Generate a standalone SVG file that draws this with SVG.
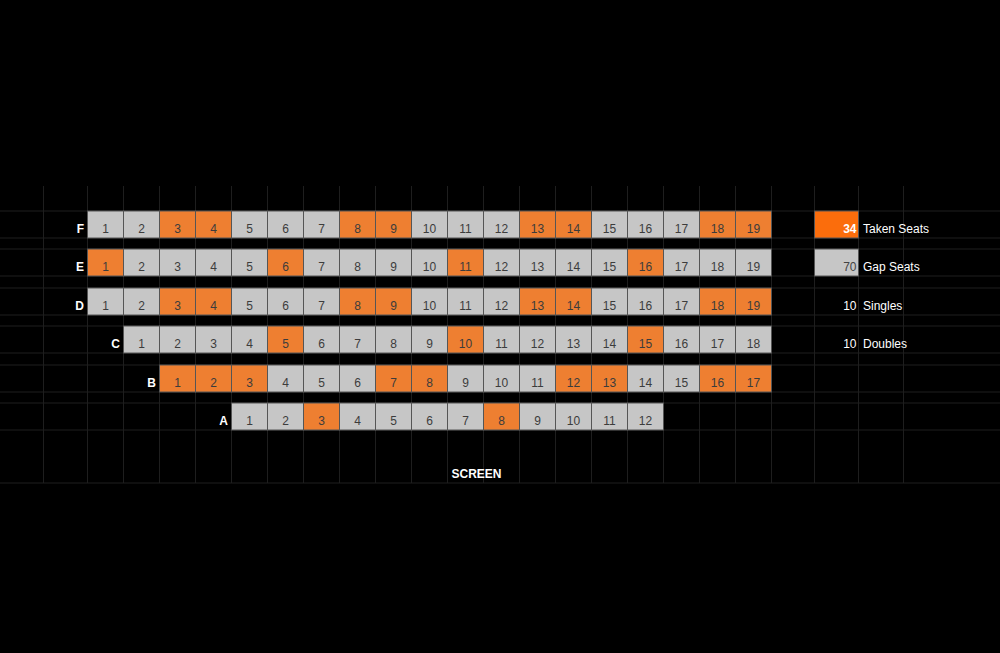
<svg xmlns="http://www.w3.org/2000/svg" width="1000" height="653" viewBox="0 0 1000 653">
<style>
.bg{fill:#000}
.grid line{stroke:#1e1e1e;stroke-width:1}
.s rect{fill:#c6c6c6;stroke:#555;stroke-width:1}
.s.t rect{fill:#ee7f31}
.s text{font-family:"Liberation Sans",Arial,sans-serif;font-size:12px;fill:#3c3c3c;text-anchor:middle}
.lbl{font-family:"Liberation Sans",Arial,sans-serif;font-size:12px;font-weight:bold;fill:#fff;text-anchor:end}
.lg{font-family:"Liberation Sans",Arial,sans-serif;font-size:12px;fill:#fff}
</style>
<rect class="bg" x="0" y="0" width="1000" height="653"/>
<g id="grid" class="grid">
<line x1="0" y1="211" x2="1000" y2="211"/><line x1="0" y1="238" x2="1000" y2="238"/>
<line x1="0" y1="249" x2="1000" y2="249"/><line x1="0" y1="276" x2="1000" y2="276"/>
<line x1="0" y1="288" x2="1000" y2="288"/><line x1="0" y1="315" x2="1000" y2="315"/>
<line x1="0" y1="326" x2="1000" y2="326"/><line x1="0" y1="353" x2="1000" y2="353"/>
<line x1="0" y1="365" x2="1000" y2="365"/><line x1="0" y1="392" x2="1000" y2="392"/>
<line x1="0" y1="403" x2="1000" y2="403"/><line x1="0" y1="430" x2="1000" y2="430"/>
<line x1="0" y1="483" x2="1000" y2="483"/>
<line x1="43.5" y1="186" x2="43.5" y2="483"/>
<line x1="87.5" y1="186" x2="87.5" y2="483"/><line x1="123.5" y1="186" x2="123.5" y2="483"/>
<line x1="159.5" y1="186" x2="159.5" y2="483"/><line x1="195.5" y1="186" x2="195.5" y2="483"/>
<line x1="231.5" y1="186" x2="231.5" y2="483"/><line x1="267.5" y1="186" x2="267.5" y2="483"/>
<line x1="303.5" y1="186" x2="303.5" y2="483"/><line x1="339.5" y1="186" x2="339.5" y2="483"/>
<line x1="375.5" y1="186" x2="375.5" y2="483"/><line x1="411.5" y1="186" x2="411.5" y2="483"/>
<line x1="447.5" y1="186" x2="447.5" y2="483"/><line x1="483.5" y1="186" x2="483.5" y2="483"/>
<line x1="519.5" y1="186" x2="519.5" y2="483"/><line x1="555.5" y1="186" x2="555.5" y2="483"/>
<line x1="591.5" y1="186" x2="591.5" y2="483"/><line x1="627.5" y1="186" x2="627.5" y2="483"/>
<line x1="663.5" y1="186" x2="663.5" y2="483"/><line x1="699.5" y1="186" x2="699.5" y2="483"/>
<line x1="735.5" y1="186" x2="735.5" y2="483"/><line x1="771.5" y1="186" x2="771.5" y2="483"/>
<line x1="814.5" y1="186" x2="814.5" y2="483"/><line x1="858.5" y1="186" x2="858.5" y2="483"/>
<line x1="903.5" y1="186" x2="903.5" y2="483"/>
</g>

<g id="rowF">
<text class="lbl" x="84" y="233">F</text>
<g id="F1" class="s"><rect x="87.5" y="211" width="36" height="27"/><text x="105.5" y="233">1</text></g>
<g id="F2" class="s"><rect x="123.5" y="211" width="36" height="27"/><text x="141.5" y="233">2</text></g>
<g id="F3" class="s t"><rect x="159.5" y="211" width="36" height="27"/><text x="177.5" y="233">3</text></g>
<g id="F4" class="s t"><rect x="195.5" y="211" width="36" height="27"/><text x="213.5" y="233">4</text></g>
<g id="F5" class="s"><rect x="231.5" y="211" width="36" height="27"/><text x="249.5" y="233">5</text></g>
<g id="F6" class="s"><rect x="267.5" y="211" width="36" height="27"/><text x="285.5" y="233">6</text></g>
<g id="F7" class="s"><rect x="303.5" y="211" width="36" height="27"/><text x="321.5" y="233">7</text></g>
<g id="F8" class="s t"><rect x="339.5" y="211" width="36" height="27"/><text x="357.5" y="233">8</text></g>
<g id="F9" class="s t"><rect x="375.5" y="211" width="36" height="27"/><text x="393.5" y="233">9</text></g>
<g id="F10" class="s"><rect x="411.5" y="211" width="36" height="27"/><text x="429.5" y="233">10</text></g>
<g id="F11" class="s"><rect x="447.5" y="211" width="36" height="27"/><text x="465.5" y="233">11</text></g>
<g id="F12" class="s"><rect x="483.5" y="211" width="36" height="27"/><text x="501.5" y="233">12</text></g>
<g id="F13" class="s t"><rect x="519.5" y="211" width="36" height="27"/><text x="537.5" y="233">13</text></g>
<g id="F14" class="s t"><rect x="555.5" y="211" width="36" height="27"/><text x="573.5" y="233">14</text></g>
<g id="F15" class="s"><rect x="591.5" y="211" width="36" height="27"/><text x="609.5" y="233">15</text></g>
<g id="F16" class="s"><rect x="627.5" y="211" width="36" height="27"/><text x="645.5" y="233">16</text></g>
<g id="F17" class="s"><rect x="663.5" y="211" width="36" height="27"/><text x="681.5" y="233">17</text></g>
<g id="F18" class="s t"><rect x="699.5" y="211" width="36" height="27"/><text x="717.5" y="233">18</text></g>
<g id="F19" class="s t"><rect x="735.5" y="211" width="36" height="27"/><text x="753.5" y="233">19</text></g>
</g>

<g id="rowE">
<text class="lbl" x="84" y="271">E</text>
<g id="E1" class="s t"><rect x="87.5" y="249" width="36" height="27"/><text x="105.5" y="271">1</text></g>
<g id="E2" class="s"><rect x="123.5" y="249" width="36" height="27"/><text x="141.5" y="271">2</text></g>
<g id="E3" class="s"><rect x="159.5" y="249" width="36" height="27"/><text x="177.5" y="271">3</text></g>
<g id="E4" class="s"><rect x="195.5" y="249" width="36" height="27"/><text x="213.5" y="271">4</text></g>
<g id="E5" class="s"><rect x="231.5" y="249" width="36" height="27"/><text x="249.5" y="271">5</text></g>
<g id="E6" class="s t"><rect x="267.5" y="249" width="36" height="27"/><text x="285.5" y="271">6</text></g>
<g id="E7" class="s"><rect x="303.5" y="249" width="36" height="27"/><text x="321.5" y="271">7</text></g>
<g id="E8" class="s"><rect x="339.5" y="249" width="36" height="27"/><text x="357.5" y="271">8</text></g>
<g id="E9" class="s"><rect x="375.5" y="249" width="36" height="27"/><text x="393.5" y="271">9</text></g>
<g id="E10" class="s"><rect x="411.5" y="249" width="36" height="27"/><text x="429.5" y="271">10</text></g>
<g id="E11" class="s t"><rect x="447.5" y="249" width="36" height="27"/><text x="465.5" y="271">11</text></g>
<g id="E12" class="s"><rect x="483.5" y="249" width="36" height="27"/><text x="501.5" y="271">12</text></g>
<g id="E13" class="s"><rect x="519.5" y="249" width="36" height="27"/><text x="537.5" y="271">13</text></g>
<g id="E14" class="s"><rect x="555.5" y="249" width="36" height="27"/><text x="573.5" y="271">14</text></g>
<g id="E15" class="s"><rect x="591.5" y="249" width="36" height="27"/><text x="609.5" y="271">15</text></g>
<g id="E16" class="s t"><rect x="627.5" y="249" width="36" height="27"/><text x="645.5" y="271">16</text></g>
<g id="E17" class="s"><rect x="663.5" y="249" width="36" height="27"/><text x="681.5" y="271">17</text></g>
<g id="E18" class="s"><rect x="699.5" y="249" width="36" height="27"/><text x="717.5" y="271">18</text></g>
<g id="E19" class="s"><rect x="735.5" y="249" width="36" height="27"/><text x="753.5" y="271">19</text></g>
</g>

<g id="rowD">
<text class="lbl" x="84" y="310">D</text>
<g id="D1" class="s"><rect x="87.5" y="288" width="36" height="27"/><text x="105.5" y="310">1</text></g>
<g id="D2" class="s"><rect x="123.5" y="288" width="36" height="27"/><text x="141.5" y="310">2</text></g>
<g id="D3" class="s t"><rect x="159.5" y="288" width="36" height="27"/><text x="177.5" y="310">3</text></g>
<g id="D4" class="s t"><rect x="195.5" y="288" width="36" height="27"/><text x="213.5" y="310">4</text></g>
<g id="D5" class="s"><rect x="231.5" y="288" width="36" height="27"/><text x="249.5" y="310">5</text></g>
<g id="D6" class="s"><rect x="267.5" y="288" width="36" height="27"/><text x="285.5" y="310">6</text></g>
<g id="D7" class="s"><rect x="303.5" y="288" width="36" height="27"/><text x="321.5" y="310">7</text></g>
<g id="D8" class="s t"><rect x="339.5" y="288" width="36" height="27"/><text x="357.5" y="310">8</text></g>
<g id="D9" class="s t"><rect x="375.5" y="288" width="36" height="27"/><text x="393.5" y="310">9</text></g>
<g id="D10" class="s"><rect x="411.5" y="288" width="36" height="27"/><text x="429.5" y="310">10</text></g>
<g id="D11" class="s"><rect x="447.5" y="288" width="36" height="27"/><text x="465.5" y="310">11</text></g>
<g id="D12" class="s"><rect x="483.5" y="288" width="36" height="27"/><text x="501.5" y="310">12</text></g>
<g id="D13" class="s t"><rect x="519.5" y="288" width="36" height="27"/><text x="537.5" y="310">13</text></g>
<g id="D14" class="s t"><rect x="555.5" y="288" width="36" height="27"/><text x="573.5" y="310">14</text></g>
<g id="D15" class="s"><rect x="591.5" y="288" width="36" height="27"/><text x="609.5" y="310">15</text></g>
<g id="D16" class="s"><rect x="627.5" y="288" width="36" height="27"/><text x="645.5" y="310">16</text></g>
<g id="D17" class="s"><rect x="663.5" y="288" width="36" height="27"/><text x="681.5" y="310">17</text></g>
<g id="D18" class="s t"><rect x="699.5" y="288" width="36" height="27"/><text x="717.5" y="310">18</text></g>
<g id="D19" class="s t"><rect x="735.5" y="288" width="36" height="27"/><text x="753.5" y="310">19</text></g>
</g>

<g id="rowC">
<text class="lbl" x="120" y="348">C</text>
<g id="C1" class="s"><rect x="123.5" y="326" width="36" height="27"/><text x="141.5" y="348">1</text></g>
<g id="C2" class="s"><rect x="159.5" y="326" width="36" height="27"/><text x="177.5" y="348">2</text></g>
<g id="C3" class="s"><rect x="195.5" y="326" width="36" height="27"/><text x="213.5" y="348">3</text></g>
<g id="C4" class="s"><rect x="231.5" y="326" width="36" height="27"/><text x="249.5" y="348">4</text></g>
<g id="C5" class="s t"><rect x="267.5" y="326" width="36" height="27"/><text x="285.5" y="348">5</text></g>
<g id="C6" class="s"><rect x="303.5" y="326" width="36" height="27"/><text x="321.5" y="348">6</text></g>
<g id="C7" class="s"><rect x="339.5" y="326" width="36" height="27"/><text x="357.5" y="348">7</text></g>
<g id="C8" class="s"><rect x="375.5" y="326" width="36" height="27"/><text x="393.5" y="348">8</text></g>
<g id="C9" class="s"><rect x="411.5" y="326" width="36" height="27"/><text x="429.5" y="348">9</text></g>
<g id="C10" class="s t"><rect x="447.5" y="326" width="36" height="27"/><text x="465.5" y="348">10</text></g>
<g id="C11" class="s"><rect x="483.5" y="326" width="36" height="27"/><text x="501.5" y="348">11</text></g>
<g id="C12" class="s"><rect x="519.5" y="326" width="36" height="27"/><text x="537.5" y="348">12</text></g>
<g id="C13" class="s"><rect x="555.5" y="326" width="36" height="27"/><text x="573.5" y="348">13</text></g>
<g id="C14" class="s"><rect x="591.5" y="326" width="36" height="27"/><text x="609.5" y="348">14</text></g>
<g id="C15" class="s t"><rect x="627.5" y="326" width="36" height="27"/><text x="645.5" y="348">15</text></g>
<g id="C16" class="s"><rect x="663.5" y="326" width="36" height="27"/><text x="681.5" y="348">16</text></g>
<g id="C17" class="s"><rect x="699.5" y="326" width="36" height="27"/><text x="717.5" y="348">17</text></g>
<g id="C18" class="s"><rect x="735.5" y="326" width="36" height="27"/><text x="753.5" y="348">18</text></g>
</g>

<g id="rowB">
<text class="lbl" x="156" y="387">B</text>
<g id="B1" class="s t"><rect x="159.5" y="365" width="36" height="27"/><text x="177.5" y="387">1</text></g>
<g id="B2" class="s t"><rect x="195.5" y="365" width="36" height="27"/><text x="213.5" y="387">2</text></g>
<g id="B3" class="s t"><rect x="231.5" y="365" width="36" height="27"/><text x="249.5" y="387">3</text></g>
<g id="B4" class="s"><rect x="267.5" y="365" width="36" height="27"/><text x="285.5" y="387">4</text></g>
<g id="B5" class="s"><rect x="303.5" y="365" width="36" height="27"/><text x="321.5" y="387">5</text></g>
<g id="B6" class="s"><rect x="339.5" y="365" width="36" height="27"/><text x="357.5" y="387">6</text></g>
<g id="B7" class="s t"><rect x="375.5" y="365" width="36" height="27"/><text x="393.5" y="387">7</text></g>
<g id="B8" class="s t"><rect x="411.5" y="365" width="36" height="27"/><text x="429.5" y="387">8</text></g>
<g id="B9" class="s"><rect x="447.5" y="365" width="36" height="27"/><text x="465.5" y="387">9</text></g>
<g id="B10" class="s"><rect x="483.5" y="365" width="36" height="27"/><text x="501.5" y="387">10</text></g>
<g id="B11" class="s"><rect x="519.5" y="365" width="36" height="27"/><text x="537.5" y="387">11</text></g>
<g id="B12" class="s t"><rect x="555.5" y="365" width="36" height="27"/><text x="573.5" y="387">12</text></g>
<g id="B13" class="s t"><rect x="591.5" y="365" width="36" height="27"/><text x="609.5" y="387">13</text></g>
<g id="B14" class="s"><rect x="627.5" y="365" width="36" height="27"/><text x="645.5" y="387">14</text></g>
<g id="B15" class="s"><rect x="663.5" y="365" width="36" height="27"/><text x="681.5" y="387">15</text></g>
<g id="B16" class="s t"><rect x="699.5" y="365" width="36" height="27"/><text x="717.5" y="387">16</text></g>
<g id="B17" class="s t"><rect x="735.5" y="365" width="36" height="27"/><text x="753.5" y="387">17</text></g>
</g>

<g id="rowA">
<text class="lbl" x="228" y="425">A</text>
<g id="A1" class="s"><rect x="231.5" y="403" width="36" height="27"/><text x="249.5" y="425">1</text></g>
<g id="A2" class="s"><rect x="267.5" y="403" width="36" height="27"/><text x="285.5" y="425">2</text></g>
<g id="A3" class="s t"><rect x="303.5" y="403" width="36" height="27"/><text x="321.5" y="425">3</text></g>
<g id="A4" class="s"><rect x="339.5" y="403" width="36" height="27"/><text x="357.5" y="425">4</text></g>
<g id="A5" class="s"><rect x="375.5" y="403" width="36" height="27"/><text x="393.5" y="425">5</text></g>
<g id="A6" class="s"><rect x="411.5" y="403" width="36" height="27"/><text x="429.5" y="425">6</text></g>
<g id="A7" class="s"><rect x="447.5" y="403" width="36" height="27"/><text x="465.5" y="425">7</text></g>
<g id="A8" class="s t"><rect x="483.5" y="403" width="36" height="27"/><text x="501.5" y="425">8</text></g>
<g id="A9" class="s"><rect x="519.5" y="403" width="36" height="27"/><text x="537.5" y="425">9</text></g>
<g id="A10" class="s"><rect x="555.5" y="403" width="36" height="27"/><text x="573.5" y="425">10</text></g>
<g id="A11" class="s"><rect x="591.5" y="403" width="36" height="27"/><text x="609.5" y="425">11</text></g>
<g id="A12" class="s"><rect x="627.5" y="403" width="36" height="27"/><text x="645.5" y="425">12</text></g>
</g>

<g id="screen">
<text x="476.5" y="478" font-family="Liberation Sans, Arial, sans-serif" font-size="12" font-weight="bold" fill="#fff" text-anchor="middle">SCREEN</text>
</g>

<g id="legend-taken">
<rect x="814.5" y="211" width="44" height="27" fill="#fb6d0c" stroke="#555" stroke-width="1"/>
<text class="lbl" x="856.5" y="233">34</text>
<text class="lg" x="863" y="233">Taken Seats</text>
</g>
<g id="legend-gap">
<rect x="814.5" y="249" width="44" height="27" fill="#c6c6c6" stroke="#555" stroke-width="1"/>
<text x="856.5" y="271" font-family="Liberation Sans, Arial, sans-serif" font-size="12" fill="#444" text-anchor="end">70</text>
<text class="lg" x="863" y="271">Gap Seats</text>
</g>
<g id="legend-singles">
<text class="lg" x="856.5" y="310" text-anchor="end">10</text>
<text class="lg" x="863" y="310">Singles</text>
</g>
<g id="legend-doubles">
<text class="lg" x="856.5" y="348" text-anchor="end">10</text>
<text class="lg" x="863" y="348">Doubles</text>
</g>
</svg>
